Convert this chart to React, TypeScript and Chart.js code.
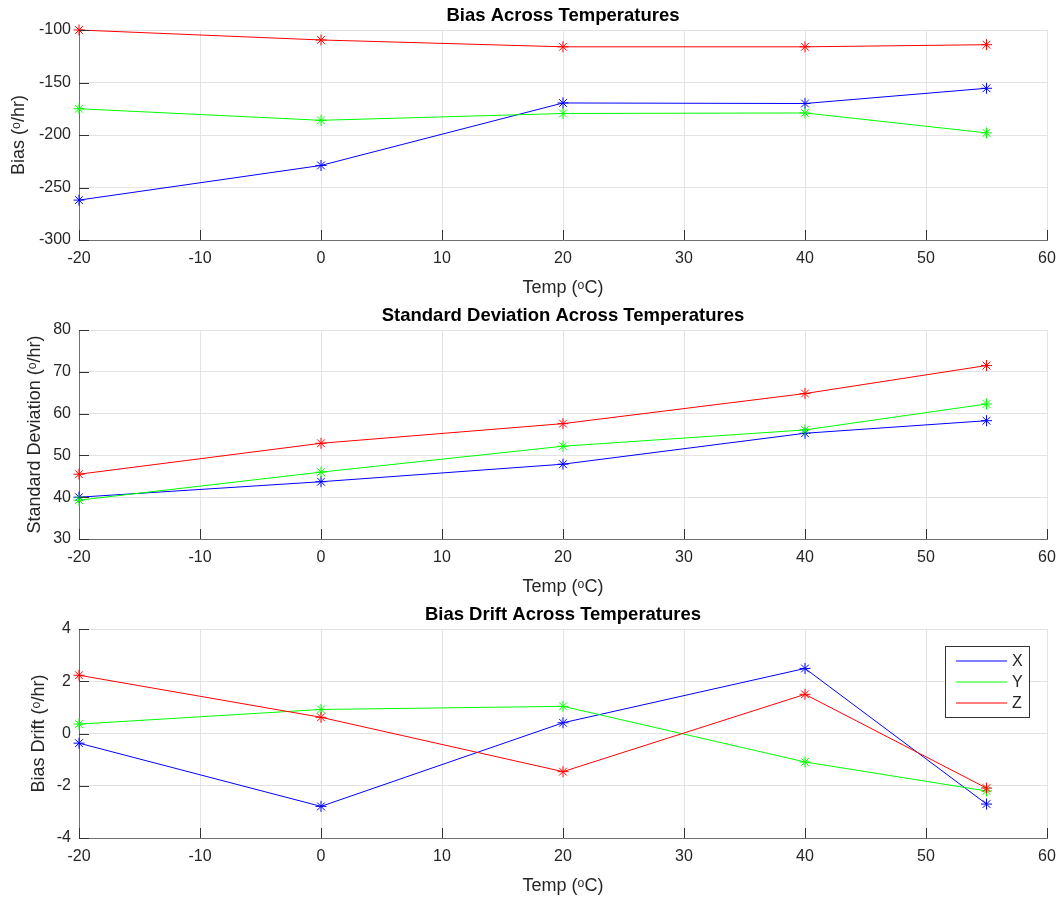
import React, { useEffect, useRef } from 'react';
import { Chart, registerables } from 'chart.js';

Chart.register(...registerables);

const temps = [-20, 0, 20, 40, 55];
const seriesLabels = ['X', 'Y', 'Z'];
const seriesColors = ['#0000ff', '#00ff00', '#ff0000'];

const biasX = [-262, -229, -169.5, -170, -155.5];
const biasY = [-175, -186, -179.5, -179, -198];
const biasZ = [-100, -109.5, -116, -116, -114];

const stdX = [40, 43.7, 47.9, 55.3, 58.3];
const stdY = [39.3, 46, 52.2, 56.1, 62.3];
const stdZ = [45.5, 52.9, 57.6, 64.8, 71.5];

const driftX = [-0.37, -2.79, 0.41, 2.49, -2.7];
const driftY = [0.36, 0.92, 1.04, -1.09, -2.2];
const driftZ = [2.23, 0.62, -1.46, 1.5, -2.09];

const xTitle = 'Temp (ᵒC)';

const FONT = "'Liberation Sans', Arial, Helvetica, sans-serif";
const TEXT_COLOR = '#262626';
const TICK_COLOR = '#333333';
const BORDER_COLOR = '#707070';
const GRID_COLOR = '#e3e3e3';

interface PanelSpec {
  title: string;
  yTitle: string;
  yMin: number;
  yMax: number;
  yStep: number;
  yTitlePad: number;
  series: number[][];
  legend: boolean;
  height: number;
}

const panels: PanelSpec[] = [
  { title: 'Bias Across Temperatures', yTitle: 'Bias (ᵒ/hr)', yMin: -300, yMax: -100, yStep: 50, yTitlePad: 8.5, series: [biasX, biasY, biasZ], legend: false, height: 300 },
  { title: 'Standard Deviation Across Temperatures', yTitle: 'Standard Deviation (ᵒ/hr)', yMin: 30, yMax: 80, yStep: 10, yTitlePad: 24, series: [stdX, stdY, stdZ], legend: false, height: 299 },
  { title: 'Bias Drift Across Temperatures', yTitle: 'Bias Drift (ᵒ/hr)', yMin: -4, yMax: 4, yStep: 2, yTitlePad: 28.5, series: [driftX, driftY, driftZ], legend: true, height: 299 },
];

const inwardTicks = {
  id: 'inwardTicks',
  afterDraw(chart: any) {
    const { ctx, chartArea } = chart;
    const xs = chart.scales.x;
    const ys = chart.scales.y;
    ctx.save();
    ctx.strokeStyle = TICK_COLOR;
    ctx.lineWidth = 1;
    ctx.beginPath();
    xs.ticks.forEach((t: any) => {
      const px = Math.round(xs.getPixelForValue(t.value)) + 0.5;
      ctx.moveTo(px, chartArea.bottom);
      ctx.lineTo(px, chartArea.bottom - 10);
    });
    ys.ticks.forEach((t: any) => {
      const py = Math.round(ys.getPixelForValue(t.value)) + 0.5;
      ctx.moveTo(chartArea.left, py);
      ctx.lineTo(chartArea.left + 10, py);
    });
    ctx.stroke();
    ctx.restore();
  },
};

const boxLegend = {
  id: 'boxLegend',
  afterDraw(chart: any, _args: any, opts: any) {
    if (!opts || !opts.show) return;
    const { ctx, chartArea } = chart;
    const w = 84;
    const h = 71;
    const x0 = Math.round(chartArea.right - 18 - w);
    const y0 = Math.round(chartArea.top + 17);
    ctx.save();
    ctx.fillStyle = '#ffffff';
    ctx.fillRect(x0, y0, w, h);
    ctx.strokeStyle = TICK_COLOR;
    ctx.lineWidth = 1;
    ctx.strokeRect(x0 + 0.5, y0 + 0.5, w, h);
    ctx.font = `16px ${FONT}`;
    ctx.textBaseline = 'middle';
    ctx.textAlign = 'left';
    chart.data.datasets.forEach((ds: any, i: number) => {
      const ly = y0 + 15 + i * 21;
      ctx.strokeStyle = ds.borderColor;
      ctx.lineWidth = 1.2;
      ctx.beginPath();
      ctx.moveTo(x0 + 11, ly);
      ctx.lineTo(x0 + 62, ly);
      ctx.stroke();
      ctx.fillStyle = TEXT_COLOR;
      ctx.fillText(ds.label, x0 + 67, ly + 1);
    });
    ctx.restore();
  },
};

function Panel({ spec }: { spec: PanelSpec }) {
  const ref = useRef<HTMLCanvasElement | null>(null);
  useEffect(() => {
    if (!ref.current) return;
    const datasets = spec.series.map((vals, i) => ({
      label: seriesLabels[i],
      data: temps.map((t, j) => ({ x: t, y: vals[j] })),
      borderColor: seriesColors[i],
      backgroundColor: seriesColors[i],
      borderWidth: 1,
      pointStyle: 'star',
      pointRadius: 5.5,
      pointBorderWidth: 1,
      pointBorderColor: seriesColors[i],
      fill: false,
      tension: 0,
      clip: false,
      order: 2 - i,
    }));
    const chart = new Chart(ref.current, {
      type: 'line',
      data: { datasets },
      plugins: [inwardTicks, boxLegend],
      options: {
        animation: false,
        responsive: false,
        devicePixelRatio: 1,
        layout: { padding: { left: 0, right: 11, top: 0, bottom: 0 } },
        plugins: {
          legend: { display: false },
          tooltip: { enabled: false },
          title: {
            display: true,
            text: spec.title,
            fullSize: false,
            color: '#000000',
            font: { family: FONT, size: 18.5, weight: 'bold', lineHeight: 1.2 },
            padding: { top: 5, bottom: 2.8 },
          },
          boxLegend: { show: spec.legend },
        } as any,
        scales: {
          x: {
            type: 'linear',
            min: -20,
            max: 60,
            ticks: {
              stepSize: 10,
              color: TEXT_COLOR,
              padding: 9,
              maxRotation: 0,
              font: { family: FONT, size: 16 },
            },
            grid: { color: GRID_COLOR, drawTicks: false },
            border: { color: BORDER_COLOR, width: 1 },
            title: {
              display: true,
              text: xTitle,
              color: TEXT_COLOR,
              font: { family: FONT, size: 18, lineHeight: 1.2 },
              padding: { top: 0, bottom: 1.5 },
            },
            afterFit: (s: any) => {
              s.height = 60;
              s.paddingLeft = 0;
              s.paddingRight = 0;
            },
          },
          y: {
            type: 'linear',
            min: spec.yMin,
            max: spec.yMax,
            ticks: {
              stepSize: spec.yStep,
              color: TEXT_COLOR,
              padding: 8,
              font: { family: FONT, size: 16 },
            },
            grid: { color: GRID_COLOR, drawTicks: false },
            border: { color: BORDER_COLOR, width: 1 },
            title: {
              display: true,
              text: spec.yTitle,
              color: TEXT_COLOR,
              font: { family: FONT, size: 18, lineHeight: 1.2 },
              padding: { top: spec.yTitlePad, bottom: 0 },
            },
            afterFit: (s: any) => {
              s.width = 79;
              s.paddingTop = 0;
              s.paddingBottom = 0;
            },
          },
        },
      } as any,
    });
    return () => chart.destroy();
  }, [spec]);
  return (
    <canvas
      ref={ref}
      width={1058}
      height={spec.height}
      style={{ display: 'block', width: 1058, height: spec.height }}
    />
  );
}

export default function App() {
  return (
    <div style={{ position: 'absolute', left: 0, top: 0, width: 1058, height: 898, background: '#ffffff' }}>
      {panels.map((p) => (
        <Panel key={p.title} spec={p} />
      ))}
    </div>
  );
}
